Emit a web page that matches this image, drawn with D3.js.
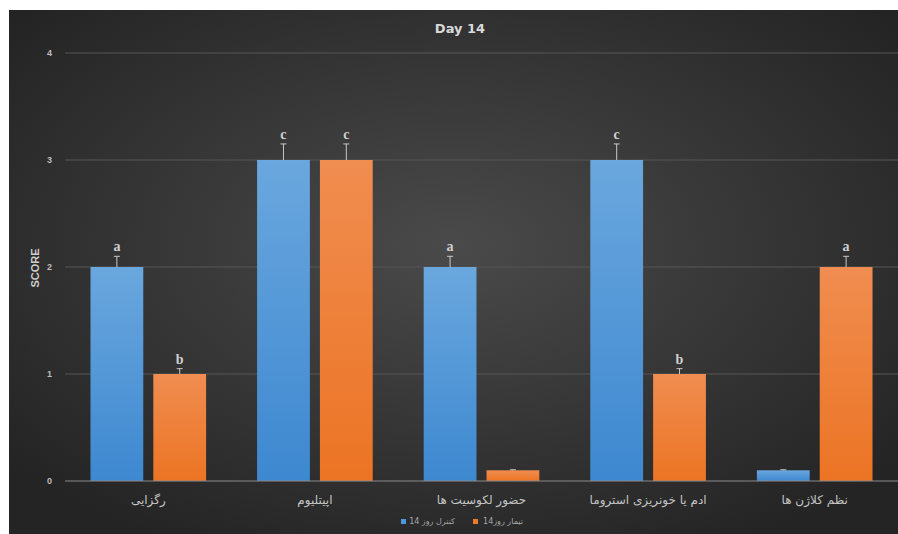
<!DOCTYPE html>
<html>
<head>
<meta charset="utf-8">
<script src="https://cdn.jsdelivr.net/npm/d3@7/dist/d3.min.js"></script>
<style>
  html, body { margin: 0; padding: 0; background: #ffffff; }
  svg { display: block; }
</style>
</head>
<body>
<svg id="chart" width="898" height="534"></svg>
<script>
// Histology scores at day 14
const categories = ["رگزایی", "اپیتلیوم", "حضور لکوسیت ها", "ادم یا خونریزی استروما", "نظم کلاژن ها"];
const seriesNames = ["کنترل روز 14", "تیمار روز14"];
const controlValues = [2, 3, 2, 3, 0.1];
const treatmentValues = [1, 3, 0.1, 1, 2];
const controlErrors = [0.1, 0.15, 0.1, 0.15, 0.005];
const treatmentErrors = [0.05, 0.15, 0.005, 0.05, 0.1];
const controlLetters = ["a", "c", "a", "c", ""];
const treatmentLetters = ["b", "c", "", "b", "a"];
const yTicks = [0, 1, 2, 3, 4];

const svg = d3.select("#chart");
const W = 898, H = 534;
const panel = { x: 9, y: 10, w: W - 9, h: H - 10 };
const margin = { top: 53, right: 0, bottom: 53, left: 65 };

// dark panel with soft radial light
const defs = svg.append("defs");
const rg = defs.append("radialGradient").attr("id", "bg")
  .attr("cx", "50%").attr("cy", "45%").attr("r", "65%");
rg.append("stop").attr("offset", "0%").attr("stop-color", "#4a4a4a");
rg.append("stop").attr("offset", "100%").attr("stop-color", "#242424");

const gradBlue = defs.append("linearGradient").attr("id", "gBlue").attr("x1", 0).attr("y1", 0).attr("x2", 0).attr("y2", 1);
gradBlue.append("stop").attr("offset", "0%").attr("stop-color", "#6aa7de");
gradBlue.append("stop").attr("offset", "100%").attr("stop-color", "#3d88d0");
const gradOrange = defs.append("linearGradient").attr("id", "gOrange").attr("x1", 0).attr("y1", 0).attr("x2", 0).attr("y2", 1);
gradOrange.append("stop").attr("offset", "0%").attr("stop-color", "#f08d50");
gradOrange.append("stop").attr("offset", "100%").attr("stop-color", "#ec7424");

svg.append("rect").attr("x", panel.x).attr("y", panel.y)
  .attr("width", panel.w).attr("height", panel.h).attr("fill", "url(#bg)");

const x0 = d3.scaleBand().domain(categories)
  .range([margin.left, W - margin.right]).paddingInner(0).paddingOuter(0);
const groupPad = 0.153 * x0.bandwidth();
const x1 = d3.scaleBand().domain(seriesNames)
  .range([groupPad, x0.bandwidth() - groupPad]).paddingInner(0.16).paddingOuter(0);
const y = d3.scaleLinear().domain([0, 4]).range([H - margin.bottom, margin.top]);

// gridlines
svg.append("g").selectAll("line").data(yTicks.filter(d => d > 0)).join("line")
  .attr("x1", margin.left).attr("x2", W - margin.right)
  .attr("y1", d => y(d)).attr("y2", d => y(d))
  .attr("stroke", "#565656").attr("stroke-width", 1);

// y axis labels
const yAxis = d3.axisLeft(y).tickValues(yTicks).tickSize(0).tickPadding(13).tickFormat(d3.format("d"));
const gy = svg.append("g").attr("transform", `translate(${margin.left},0)`).call(yAxis);
gy.select(".domain").remove();
gy.selectAll("text").attr("fill", "#bdbdbd").style("font-family", "Liberation Sans, Arial, sans-serif")
  .style("font-size", "9px").style("font-weight", "bold");

// bars
const series = [
  { name: seriesNames[0], values: controlValues, errors: controlErrors, letters: controlLetters, fill: "url(#gBlue)" },
  { name: seriesNames[1], values: treatmentValues, errors: treatmentErrors, letters: treatmentLetters, fill: "url(#gOrange)" }
];

const groups = svg.append("g").selectAll("g").data(categories).join("g")
  .attr("transform", d => `translate(${x0(d)},0)`);

groups.each(function (cat, i) {
  const g = d3.select(this);
  series.forEach(s => {
    const v = s.values[i], e = s.errors[i];
    const bx = x1(s.name), bw = x1.bandwidth();
    g.append("rect").attr("x", bx).attr("y", y(v))
      .attr("width", bw).attr("height", y(0) - y(v)).attr("fill", s.fill);
    const cx = bx + bw / 2;
    g.append("line").attr("x1", cx).attr("x2", cx).attr("y1", y(v)).attr("y2", y(v + e))
      .attr("stroke", "#c8c8c8").attr("stroke-width", 1);
    g.append("line").attr("x1", cx - 3).attr("x2", cx + 3).attr("y1", y(v + e)).attr("y2", y(v + e))
      .attr("stroke", "#c8c8c8").attr("stroke-width", 1);
    if (s.letters[i]) {
      g.append("text").attr("x", cx).attr("y", y(v + e) - 5)
        .attr("text-anchor", "middle").attr("fill", "#d0d0d0")
        .style("font-family", "Liberation Serif, Times New Roman, serif")
        .style("font-size", "14px").style("font-weight", "bold")
        .text(s.letters[i]);
    }
  });
});

// baseline
svg.append("line").attr("x1", margin.left).attr("x2", W - margin.right)
  .attr("y1", y(0)).attr("y2", y(0)).attr("stroke", "#8a8a8a").attr("stroke-width", 1);

// category labels
const xAxis = d3.axisBottom(x0).tickSize(0).tickPadding(14);
const gx = svg.append("g").attr("transform", `translate(0,${y(0)})`).call(xAxis);
gx.select(".domain").remove();
gx.selectAll("text").attr("fill", "#c4c4c4").attr("direction", "rtl")
  .style("font-family", "DejaVu Sans, Noto Sans, sans-serif").style("font-size", "12px");

// title
svg.append("text").attr("x", 460).attr("y", 33).attr("text-anchor", "middle")
  .attr("fill", "#d9d9d9").style("font-family", "DejaVu Sans, sans-serif")
  .style("font-size", "13px").style("font-weight", "bold").text("Day 14");

// y axis title
svg.append("text").attr("transform", `translate(39,${268}) rotate(-90)`)
  .attr("text-anchor", "middle").attr("fill", "#cfcfcf")
  .style("font-family", "Liberation Sans Narrow, Liberation Sans, Arial, sans-serif")
  .style("font-size", "11px").style("font-weight", "bold").text("SCORE");

// legend
const legend = [
  { name: seriesNames[0], color: "#4f97dc", sq: 401, tx: 432 },
  { name: seriesNames[1], color: "#ee7a2f", sq: 473, tx: 503 }
];
const lg = svg.append("g");
legend.forEach(l => {
  lg.append("rect").attr("x", l.sq).attr("y", 519).attr("width", 5).attr("height", 5).attr("fill", l.color);
  lg.append("text").attr("x", l.tx).attr("y", 524).attr("text-anchor", "middle")
    .attr("direction", "rtl").attr("fill", "#a8a8a8")
    .style("font-family", "DejaVu Sans, sans-serif").style("font-size", "8px").text(l.name);
});
</script>
</body>
</html>
